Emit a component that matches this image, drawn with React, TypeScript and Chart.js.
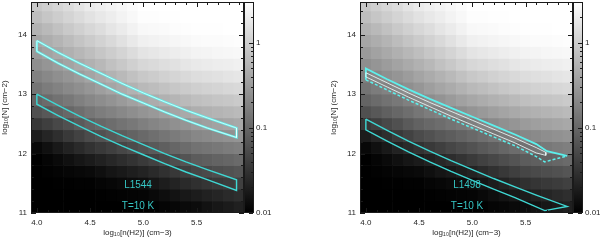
import React, { useEffect, useRef } from "react";
import { Chart, registerables } from "chart.js";

Chart.register(...registerables);
Chart.defaults.font.family = "'Liberation Sans', Arial, sans-serif";
Chart.defaults.font.size = 8;
Chart.defaults.color = "#262626";

// ---------- heat-map grid: cell centres ----------
const densityCols = [4.0, 4.1, 4.2, 4.3, 4.4, 4.5, 4.6, 4.7, 4.8, 4.9, 5.0, 5.1, 5.2, 5.3, 5.4, 5.5, 5.6, 5.7, 5.8, 5.9];
const columnRows = [14.5, 14.3, 14.1, 13.9, 13.7, 13.5, 13.3, 13.1, 12.9, 12.7, 12.5, 12.3, 12.1, 11.9, 11.7, 11.5, 11.3, 11.1];

// log10 of the colour-bar quantity, one array per row (top row first)
const lv145 = [-0.06, 0.01, 0.08, 0.14, 0.21, 0.28, 0.32, 0.36, 0.40, 0.44, 0.48, 0.48, 0.48, 0.48, 0.48, 0.48, 0.48, 0.48, 0.48, 0.48];
const lv143 = [-0.15, -0.08, -0.01, 0.06, 0.13, 0.20, 0.25, 0.30, 0.36, 0.41, 0.46, 0.46, 0.47, 0.47, 0.48, 0.48, 0.48, 0.48, 0.48, 0.48];
const lv141 = [-0.27, -0.20, -0.13, -0.05, 0.02, 0.09, 0.15, 0.22, 0.28, 0.35, 0.41, 0.42, 0.43, 0.45, 0.46, 0.47, 0.47, 0.47, 0.48, 0.48];
const lv139 = [-0.39, -0.32, -0.25, -0.17, -0.10, -0.03, 0.04, 0.11, 0.19, 0.26, 0.33, 0.35, 0.37, 0.39, 0.41, 0.43, 0.44, 0.44, 0.45, 0.46];
const lv137 = [-0.50, -0.43, -0.36, -0.29, -0.22, -0.15, -0.08, -0.01, 0.06, 0.14, 0.21, 0.24, 0.27, 0.30, 0.33, 0.36, 0.37, 0.39, 0.40, 0.41];
const lv135 = [-0.62, -0.55, -0.48, -0.42, -0.35, -0.28, -0.21, -0.13, -0.06, 0.02, 0.09, 0.12, 0.16, 0.19, 0.23, 0.26, 0.28, 0.30, 0.31, 0.33];
const lv133 = [-0.75, -0.68, -0.61, -0.55, -0.48, -0.41, -0.34, -0.27, -0.20, -0.13, -0.06, -0.02, 0.03, 0.07, 0.11, 0.15, 0.17, 0.19, 0.21, 0.23];
const lv131 = [-0.87, -0.80, -0.74, -0.67, -0.61, -0.54, -0.47, -0.40, -0.34, -0.27, -0.20, -0.16, -0.12, -0.07, -0.03, 0.01, 0.04, 0.06, 0.09, 0.11];
const lv129 = [-1.03, -0.96, -0.89, -0.83, -0.76, -0.69, -0.63, -0.57, -0.50, -0.44, -0.38, -0.33, -0.28, -0.24, -0.19, -0.14, -0.12, -0.09, -0.07, -0.04];
const lv127 = [-1.22, -1.15, -1.07, -1.00, -0.93, -0.85, -0.79, -0.74, -0.68, -0.62, -0.56, -0.51, -0.46, -0.41, -0.36, -0.31, -0.28, -0.25, -0.22, -0.19];
const lv125 = [-1.47, -1.39, -1.30, -1.22, -1.13, -1.05, -0.99, -0.94, -0.88, -0.83, -0.77, -0.71, -0.66, -0.60, -0.55, -0.49, -0.46, -0.43, -0.40, -0.37];
const lv123 = [-1.73, -1.64, -1.55, -1.45, -1.36, -1.27, -1.21, -1.15, -1.10, -1.04, -0.98, -0.92, -0.86, -0.81, -0.75, -0.69, -0.66, -0.62, -0.59, -0.56];
const lv121 = [-1.92, -1.84, -1.76, -1.67, -1.59, -1.51, -1.45, -1.39, -1.32, -1.26, -1.20, -1.14, -1.08, -1.01, -0.95, -0.89, -0.86, -0.83, -0.80, -0.77];
const lv119 = [-2.00, -1.95, -1.90, -1.84, -1.79, -1.74, -1.68, -1.62, -1.56, -1.50, -1.44, -1.37, -1.31, -1.24, -1.18, -1.11, -1.08, -1.04, -1.01, -0.97];
const lv117 = [-2.00, -1.98, -1.96, -1.94, -1.92, -1.90, -1.85, -1.80, -1.76, -1.71, -1.66, -1.59, -1.52, -1.46, -1.39, -1.32, -1.28, -1.24, -1.21, -1.17];
const lv115 = [-2.00, -2.00, -1.99, -1.99, -1.98, -1.98, -1.95, -1.93, -1.90, -1.88, -1.85, -1.79, -1.72, -1.66, -1.59, -1.53, -1.49, -1.45, -1.42, -1.38];
const lv113 = [-2.00, -2.00, -2.00, -2.00, -2.00, -2.00, -1.99, -1.98, -1.97, -1.96, -1.95, -1.91, -1.86, -1.82, -1.77, -1.73, -1.68, -1.64, -1.59, -1.55];
const lv111 = [-2.00, -2.00, -2.00, -2.00, -2.00, -2.00, -2.00, -2.00, -2.00, -2.00, -2.00, -1.98, -1.95, -1.93, -1.90, -1.88, -1.83, -1.78, -1.74, -1.69];
const levelRows = [lv145, lv143, lv141, lv139, lv137, lv135, lv133, lv131, lv129, lv127, lv125, lv123, lv121, lv119, lv117, lv115, lv113, lv111];

// ---------- axes ----------
const xTicks = [4, 4.5, 5, 5.5];
const yTicks = [11, 12, 13, 14];
const cbTicks = [0.01, 0.1, 1];
const CB_MIN = 0.01;
const CB_MAX = 3;

// ---------- L1544 bands ----------
const l1544X = [4.0, 4.2, 4.4, 4.6, 4.8, 5.0, 5.2, 5.4, 5.6, 5.875];
const l1544UpperTop = [13.90, 13.70, 13.52, 13.35, 13.18, 13.02, 12.87, 12.73, 12.60, 12.43];
const l1544UpperBot = [13.72, 13.52, 13.34, 13.17, 13.00, 12.85, 12.70, 12.56, 12.43, 12.27];
const l1544LowerTop = [13.00, 12.81, 12.63, 12.46, 12.30, 12.15, 12.00, 11.86, 11.73, 11.56];
const l1544LowerBot = [12.83, 12.64, 12.46, 12.29, 12.13, 11.98, 11.83, 11.69, 11.56, 11.38];

// ---------- L1498 bands ----------
const l1498UpperTopX = [4.0, 4.2, 4.4, 4.6, 4.8, 5.0, 5.2, 5.4, 5.6, 5.7, 5.89];
const l1498UpperTop = [13.43, 13.25, 13.08, 12.92, 12.77, 12.62, 12.47, 12.32, 12.16, 12.04, 11.96];
const l1498UpperBotX = [4.0, 4.2, 4.4, 4.6, 4.8, 5.0, 5.2, 5.4, 5.6, 5.68, 5.89];
const l1498UpperBot = [13.24, 13.07, 12.90, 12.74, 12.58, 12.43, 12.28, 12.13, 11.95, 11.86, 11.96];
const l1498InnerX = [4.0, 4.2, 4.4, 4.6, 4.8, 5.0, 5.2, 5.4, 5.6, 5.69];
const l1498InnerTop = [13.36, 13.19, 13.02, 12.86, 12.71, 12.56, 12.41, 12.26, 12.10, 12.02];
const l1498InnerBot = [13.29, 13.12, 12.95, 12.79, 12.63, 12.48, 12.33, 12.18, 12.01, 11.97];
const l1498LowerTopX = [4.0, 4.2, 4.4, 4.6, 4.8, 5.0, 5.2, 5.4, 5.6, 5.89];
const l1498LowerTop = [12.58, 12.39, 12.21, 12.04, 11.88, 11.73, 11.58, 11.44, 11.30, 11.11];
const l1498LowerBotX = [4.0, 4.2, 4.4, 4.6, 4.8, 5.0, 5.2, 5.4, 5.68, 5.89];
const l1498LowerBot = [12.40, 12.21, 12.03, 11.86, 11.70, 11.55, 11.40, 11.26, 11.04, 11.11];

// ---------- helpers ----------
type Pt = { x: number; y: number };
const pts = (xs: number[], ys: number[]): Pt[] => xs.map((x, i) => ({ x, y: ys[i] }));
const closedBand = (tx: number[], ty: number[], bx: number[], by: number[]): Pt[] => {
  const top = pts(tx, ty);
  const bot = pts(bx, by).reverse();
  return [...top, ...bot, top[0]];
};
const LOG_MIN = Math.log10(CB_MIN);
const LOG_MAX = Math.log10(CB_MAX);
const grayOf = (lv: number) => {
  const t = Math.max(0, Math.min(1, (lv - LOG_MIN) / (LOG_MAX - LOG_MIN)));
  const g = Math.round(t * 255);
  return `rgb(${g},${g},${g})`;
};
const CELL_HALF = 0.1;

const heatDatasets = () =>
  columnRows.map((yc, r) => ({
    type: "bar" as const,
    label: `N=${yc}`,
    data: densityCols.map((x) => ({ x, y: [yc - CELL_HALF, yc + CELL_HALF] })),
    backgroundColor: levelRows[r].map(grayOf),
    borderWidth: 0,
    barPercentage: 1,
    categoryPercentage: 1,
    grouped: false,
    order: 10,
  }));

const line = (data: Pt[], color: string, width: number, order: number, dash: number[] = []) => ({
  type: "line" as const,
  data,
  borderColor: color,
  borderWidth: width,
  borderDash: dash,
  pointRadius: 0,
  fill: false,
  tension: 0,
  order,
});

const CYAN = "#3fd8d4";
const CYAN_BRIGHT = "#5cf0ec";
const WHITE_LINE = "rgba(240,255,255,0.9)";

const leftDatasets = () => [
  ...heatDatasets(),
  line(closedBand(l1544X, l1544UpperTop, l1544X, l1544UpperBot), WHITE_LINE, 0.8, 1),
  line(closedBand(l1544X, l1544UpperTop, l1544X, l1544UpperBot), CYAN_BRIGHT, 2.2, 2),
  line(closedBand(l1544X, l1544LowerTop, l1544X, l1544LowerBot), CYAN, 1.4, 2),
];

const rightDatasets = () => [
  ...heatDatasets(),
  line(closedBand(l1498InnerX, l1498InnerTop, l1498InnerX, l1498InnerBot), WHITE_LINE, 0.9, 1),
  line([{ x: l1498UpperBotX[0], y: l1498UpperBot[0] }, ...pts(l1498UpperTopX, l1498UpperTop)], CYAN_BRIGHT, 1.8, 2),
  line(pts(l1498UpperBotX, l1498UpperBot), CYAN_BRIGHT, 1.5, 2, [3, 2]),
  line(closedBand(l1498LowerTopX, l1498LowerTop, l1498LowerBotX, l1498LowerBot), CYAN, 1.4, 2),
];

// label anchor (data coordinates)
const LABEL_X = 4.95;
const NAME_Y = 11.47;
const TEMP_Y = 11.12;
const CB_WIDTH = 9;

const decorPlugin = {
  id: "decor",
  afterDraw(chart: any, _a: any, opts: any) {
    const { ctx, chartArea: a, scales } = chart;
    const xs = scales.x, ys = scales.y, cb = scales.cb;
    ctx.save();
    // colour bar
    const top = cb.getPixelForValue(CB_MAX);
    const bot = cb.getPixelForValue(CB_MIN);
    const grad = ctx.createLinearGradient(0, bot, 0, top);
    grad.addColorStop(0, "#000");
    grad.addColorStop(1, "#fff");
    ctx.fillStyle = grad;
    ctx.fillRect(a.right, top, CB_WIDTH, bot - top);
    ctx.strokeStyle = "#1a1a1a";
    ctx.lineWidth = 1;
    ctx.strokeRect(a.right + 0.5, top + 0.5, CB_WIDTH, bot - top - 1);
    // colour-bar log ticks
    ctx.beginPath();
    for (const d of cbTicks) {
      for (let m = 1; m <= 9; m++) {
        const v = d * m;
        if (v > CB_MAX) break;
        const py = Math.round(cb.getPixelForValue(v)) + 0.5;
        const len = m === 1 ? 4 : 2;
        ctx.moveTo(a.right + CB_WIDTH, py);
        ctx.lineTo(a.right + CB_WIDTH - len, py);
      }
    }
    ctx.stroke();
    // frame
    ctx.strokeRect(a.left + 0.5, a.top + 0.5, a.right - a.left - 1, a.bottom - a.top - 1);
    // inward ticks
    ctx.beginPath();
    for (let k = 0; k <= 19; k++) {
      const v = 4 + k * 0.1;
      const px = Math.round(xs.getPixelForValue(v)) + 0.5;
      const len = k % 5 === 0 ? 5 : 3;
      ctx.moveTo(px, a.top);
      ctx.lineTo(px, a.top + len);
      ctx.moveTo(px, a.bottom);
      ctx.lineTo(px, a.bottom - len);
    }
    for (let k = 0; k <= 17; k++) {
      const v = 11 + k * 0.2;
      const py = Math.round(ys.getPixelForValue(v)) + 0.5;
      const len = k % 5 === 0 ? 5 : 3;
      ctx.moveTo(a.left, py);
      ctx.lineTo(a.left + len, py);
      ctx.moveTo(a.right, py);
      ctx.lineTo(a.right - len, py);
    }
    ctx.stroke();
    // source labels
    ctx.fillStyle = "#36c6c4";
    ctx.font = "10px 'Liberation Sans', Arial, sans-serif";
    ctx.textAlign = "center";
    ctx.textBaseline = "middle";
    ctx.fillText(opts.name, xs.getPixelForValue(LABEL_X), ys.getPixelForValue(NAME_Y));
    ctx.fillText(opts.temp, xs.getPixelForValue(LABEL_X), ys.getPixelForValue(TEMP_Y));
    ctx.restore();
  },
};

const CANVAS_W = 300;
const CANVAS_H = 240;

const noPad = (s: any) => {
  s.paddingTop = 0;
  s.paddingBottom = 0;
  s.paddingLeft = 0;
  s.paddingRight = 0;
};

function buildConfig(datasets: any[], name: string): any {
  return {
    type: "bar",
    data: { datasets },
    plugins: [decorPlugin],
    options: {
      animation: false,
      responsive: false,
      events: [],
      layout: { padding: { top: 2, left: 0, right: 0, bottom: 0 } },
      plugins: {
        legend: { display: false },
        tooltip: { enabled: false },
        decor: { name, temp: "T=10 K" },
      },
      scales: {
        x: {
          type: "linear",
          position: "bottom",
          min: 3.945,
          max: 5.945,
          offset: false,
          grid: { display: false, drawTicks: false },
          border: { display: false },
          afterBuildTicks: (s: any) => {
            s.ticks = xTicks.map((value) => ({ value }));
          },
          afterFit: (s: any) => {
            s.height = 27;
            noPad(s);
          },
          ticks: { padding: 5, maxRotation: 0, autoSkip: false },
          title: { display: true, text: "log₁₀[n(H2)] (cm−3)", padding: { top: 0, bottom: 2 } },
        },
        y: {
          type: "linear",
          position: "left",
          min: 11,
          max: 14.55,
          grid: { display: false, drawTicks: false },
          border: { display: false },
          afterBuildTicks: (s: any) => {
            s.ticks = yTicks.map((value) => ({ value }));
          },
          afterFit: (s: any) => {
            s.width = 31;
            noPad(s);
          },
          ticks: { padding: 4 },
          title: { display: true, text: "log₁₀[N] (cm−2)", padding: { top: 0, bottom: 0 } },
        },
        cb: {
          type: "logarithmic",
          position: "right",
          display: true,
          min: CB_MIN,
          max: CB_MAX,
          grid: { display: false, drawTicks: false },
          border: { display: false },
          afterBuildTicks: (s: any) => {
            s.ticks = cbTicks.map((value) => ({ value }));
          },
          afterFit: (s: any) => {
            s.width = CANVAS_W - 244;
            noPad(s);
          },
          ticks: { padding: 12, callback: (v: any) => String(v) },
        },
      },
    },
  };
}

function Panel({ left, kind }: { left: number; kind: "L1544" | "L1498" }) {
  const ref = useRef<HTMLCanvasElement>(null);
  useEffect(() => {
    const ds = kind === "L1544" ? leftDatasets() : rightDatasets();
    const chart = new Chart(ref.current as HTMLCanvasElement, buildConfig(ds, kind));
    return () => chart.destroy();
  }, [kind]);
  return (
    <canvas
      ref={ref}
      width={CANVAS_W}
      height={CANVAS_H}
      style={{ position: "absolute", left, top: 0, width: CANVAS_W, height: CANVAS_H }}
    />
  );
}

export default function App() {
  return (
    <div
      style={{
        position: "fixed",
        left: 0,
        top: 0,
        width: 600,
        height: 240,
        overflow: "hidden",
        background: "#fff",
      }}
    >
      <Panel left={0} kind="L1544" />
      <Panel left={329} kind="L1498" />
    </div>
  );
}
